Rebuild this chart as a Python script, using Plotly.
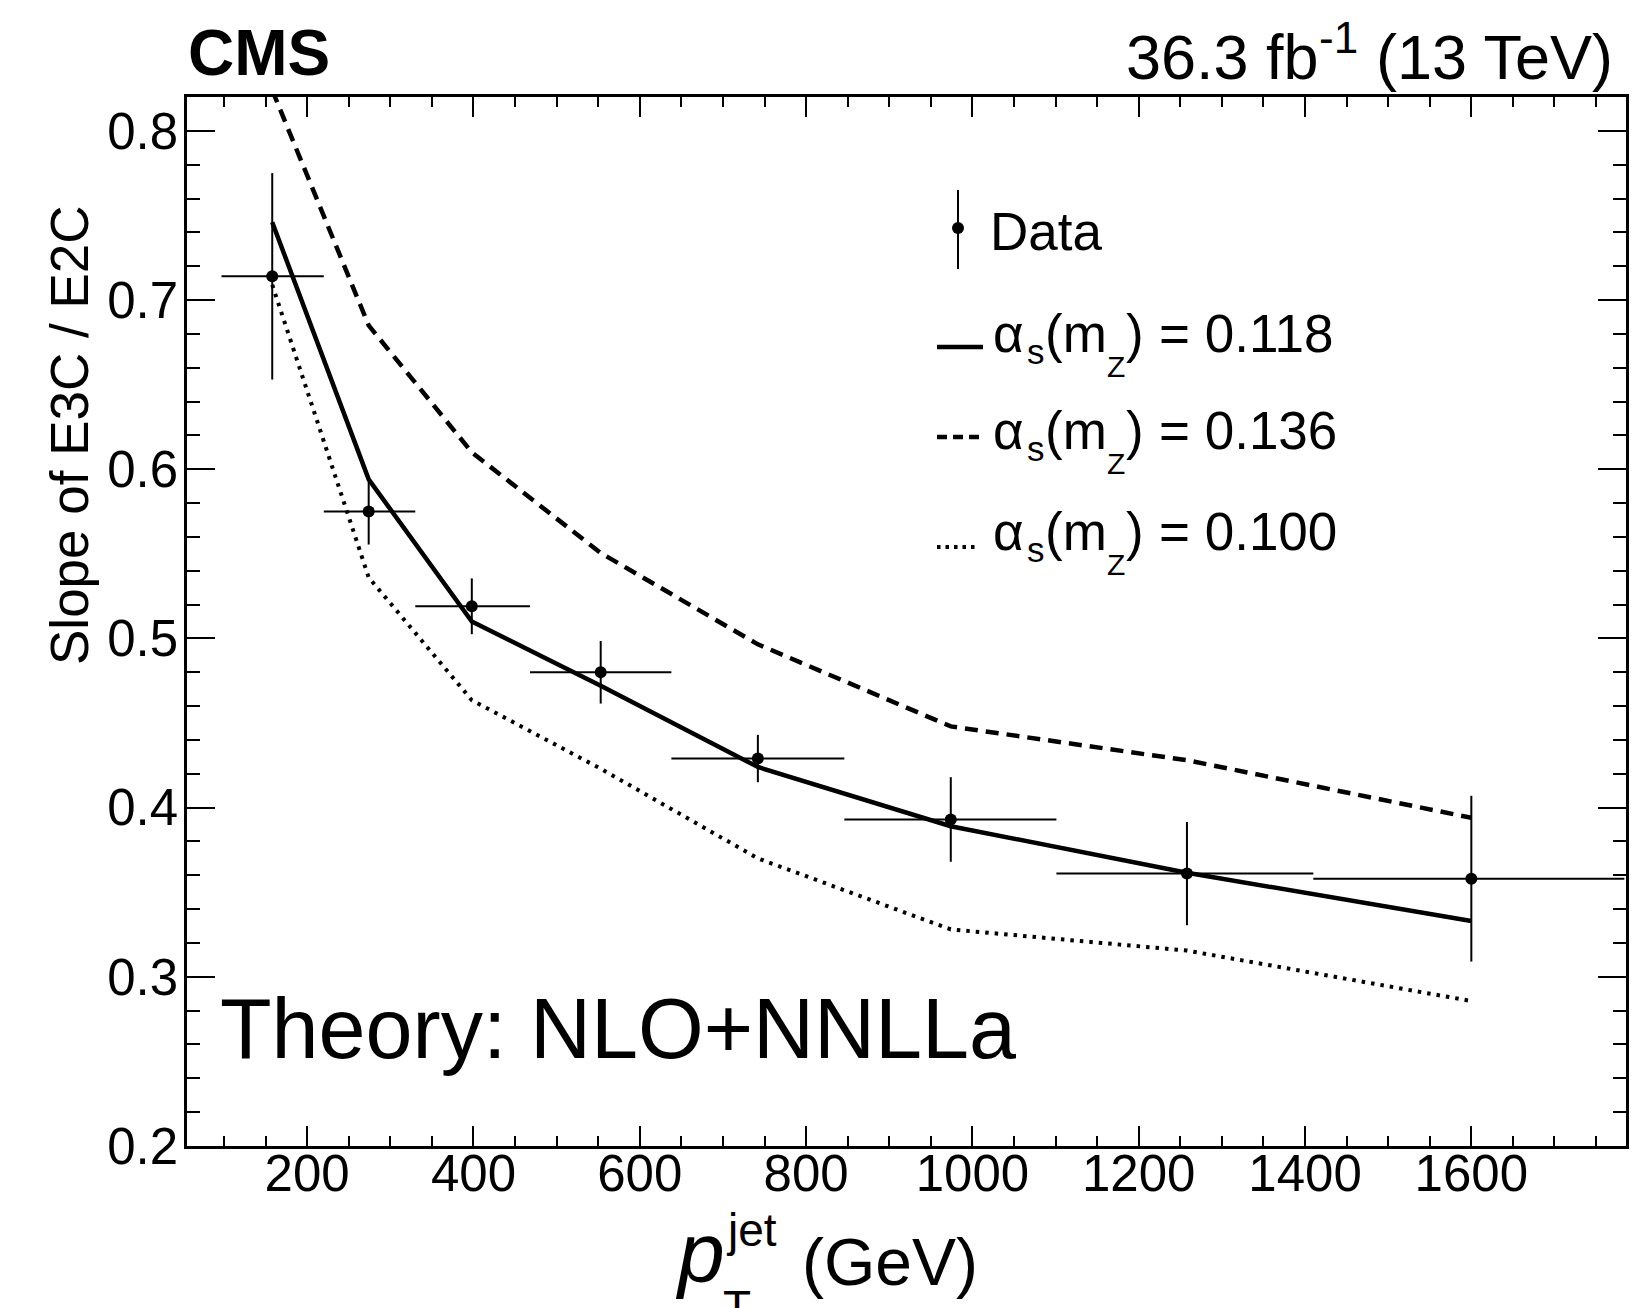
import plotly.graph_objects as go

# ---------------- data ----------------
pt_centers = [158, 274, 398, 553, 742, 974, 1258, 1600]
bin_edges = [97, 220, 330, 468, 638, 846, 1101, 1410, 1784]
data_slope = [0.714, 0.575, 0.519, 0.480, 0.429, 0.393, 0.361, 0.358]
data_err = [0.061, 0.0195, 0.0165, 0.0185, 0.014, 0.025, 0.0305, 0.049]

theory_118 = [0.746, 0.594, 0.510, 0.472, 0.424, 0.389, 0.3615, 0.333]
theory_136 = [0.824, 0.685, 0.610, 0.5505, 0.4965, 0.448, 0.428, 0.394]
theory_100 = [0.709, 0.536, 0.4635, 0.423, 0.370, 0.328, 0.3155, 0.2857]

alpha_values = ["0.118", "0.136", "0.100"]

# ---------------- layout constants ----------------
W, H = 1650, 1308
ML, MR, MT, MB = 187, 24, 97, 162
PW, PH = W - ML - MR, H - MT - MB
FONT = "Liberation Sans, Arial, Helvetica, sans-serif"


def px(x):
    return (x - ML) / PW


def py(y):
    return (H - MB - y) / PH


xerr_minus = [c - lo for c, lo in zip(pt_centers, bin_edges[:-1])]
xerr_plus = [hi - c for c, hi in zip(pt_centers, bin_edges[1:])]

fig = go.Figure()

fig.add_trace(go.Scatter(x=pt_centers, y=theory_136, mode="lines",
                         line=dict(color="black", width=4.5, dash="13px,8px"),
                         showlegend=False))
fig.add_trace(go.Scatter(x=pt_centers, y=theory_100, mode="lines",
                         line=dict(color="black", width=4, dash="3.5px,6px"),
                         showlegend=False))
fig.add_trace(go.Scatter(x=pt_centers, y=theory_118, mode="lines",
                         line=dict(color="black", width=4.5),
                         showlegend=False))
fig.add_trace(go.Scatter(
    x=pt_centers, y=data_slope, mode="markers",
    marker=dict(color="black", size=12),
    error_y=dict(type="data", array=data_err, color="black", thickness=2, width=0),
    error_x=dict(type="data", array=xerr_plus, arrayminus=xerr_minus,
                 color="black", thickness=2, width=0),
    showlegend=False))

axis_common = dict(showline=True, linecolor="black", linewidth=2.5, mirror="ticks",
                   ticks="inside", tickcolor="black", tickwidth=2,
                   showgrid=False, zeroline=False,
                   tickfont=dict(family=FONT, size=51, color="black"))

fig.update_xaxes(range=[55.5, 1786], tick0=0, dtick=200, ticklen=20,
                 ticklabelstandoff=-19,
                 minor=dict(dtick=50, ticklen=10, tickwidth=2, ticks="inside",
                            tickcolor="black", showgrid=False),
                 **axis_common)
fig.update_yaxes(range=[0.2, 0.82], tick0=0.2, dtick=0.1, ticklen=28,
                 tickformat=".1f", ticklabelstandoff=-4,
                 minor=dict(dtick=0.02, ticklen=13, tickwidth=2, ticks="inside",
                            tickcolor="black", showgrid=False),
                 **axis_common)

ann = []


def txt(text, x, y, size, xanchor="left", yanchor="middle", **kw):
    d = dict(text=text, x=px(x), y=py(y), xanchor=xanchor, yanchor=yanchor,
             xref="paper", yref="paper", showarrow=False, borderpad=0,
             font=dict(family=FONT, size=size, color="black"))
    d.update(kw)
    ann.append(d)


def mid(baseline, size):
    return baseline - 0.3465 * size


# header
txt("<b>CMS</b>", 187, 53.5, 64)
LUMI_S, LUMI_B = 63, 79
txt("(13 TeV)", 1614, mid(LUMI_B, LUMI_S), LUMI_S, xanchor="right")
lumi_right = 1614 - 3.89 * LUMI_S - 0.278 * LUMI_S + 8
txt("-1", lumi_right, mid(LUMI_B - 26.4, 44), 44, xanchor="right")
txt("36.3 fb", lumi_right - 0.889 * 44, mid(LUMI_B, LUMI_S), LUMI_S, xanchor="right")
# theory label
txt("Theory: NLO+NNLLa", 219, 1029, 84.5)
# y title
txt("Slope of E3C / E2C", 70, 435, 53, xanchor="center", textangle=-90)
# x title pieces
txt("<i>p</i>", 674, mid(1282, 84), 84)
txt("jet", 725, 1230, 46)
txt("T", 722, 1307, 46)
txt("(GeV)", 801, mid(1285, 66), 66)

# legend texts
LS = 53
txt("Data", 989, mid(250, LS), LS)
row_baselines = [352, 448.5, 550]
for val, b in zip(alpha_values, row_baselines):
    txt("α", 992, mid(b, LS), LS)
    txt("s", 1026, mid(b + 12, 35), 35)
    txt("(m", 1044, mid(b, LS), LS)
    txt("Z", 1106, mid(b + 25, 30), 30)
    txt(")", 1125, mid(b, LS), LS)
    txt("= " + val, 1158, mid(b, LS), LS)

shapes = []
# legend symbols
shapes.append(dict(type="line", x0=px(958), x1=px(958), y0=py(190), y1=py(269),
                   line=dict(color="black", width=2)))
shapes.append(dict(type="circle", x0=px(952), x1=px(964), y0=py(222), y1=py(234),
                   fillcolor="black", line=dict(color="black", width=0)))
shapes.append(dict(type="line", x0=px(937), x1=px(983), y0=py(347), y1=py(347),
                   line=dict(color="black", width=4.5)))
shapes.append(dict(type="line", x0=px(937), x1=px(983), y0=py(437), y1=py(437),
                   line=dict(color="black", width=4.5, dash="10px,6px")))
shapes.append(dict(type="line", x0=px(937), x1=px(978), y0=py(547), y1=py(547),
                   line=dict(color="black", width=4, dash="3.5px,5px")))
for s in shapes:
    s.update(xref="paper", yref="paper")

fig.update_layout(width=W, height=H, margin=dict(l=ML, r=MR, t=MT, b=MB, pad=0),
                  paper_bgcolor="white", plot_bgcolor="white",
                  annotations=ann, shapes=shapes, showlegend=False,
                  font=dict(family=FONT, color="black"))

fig.write_html("out.html")
